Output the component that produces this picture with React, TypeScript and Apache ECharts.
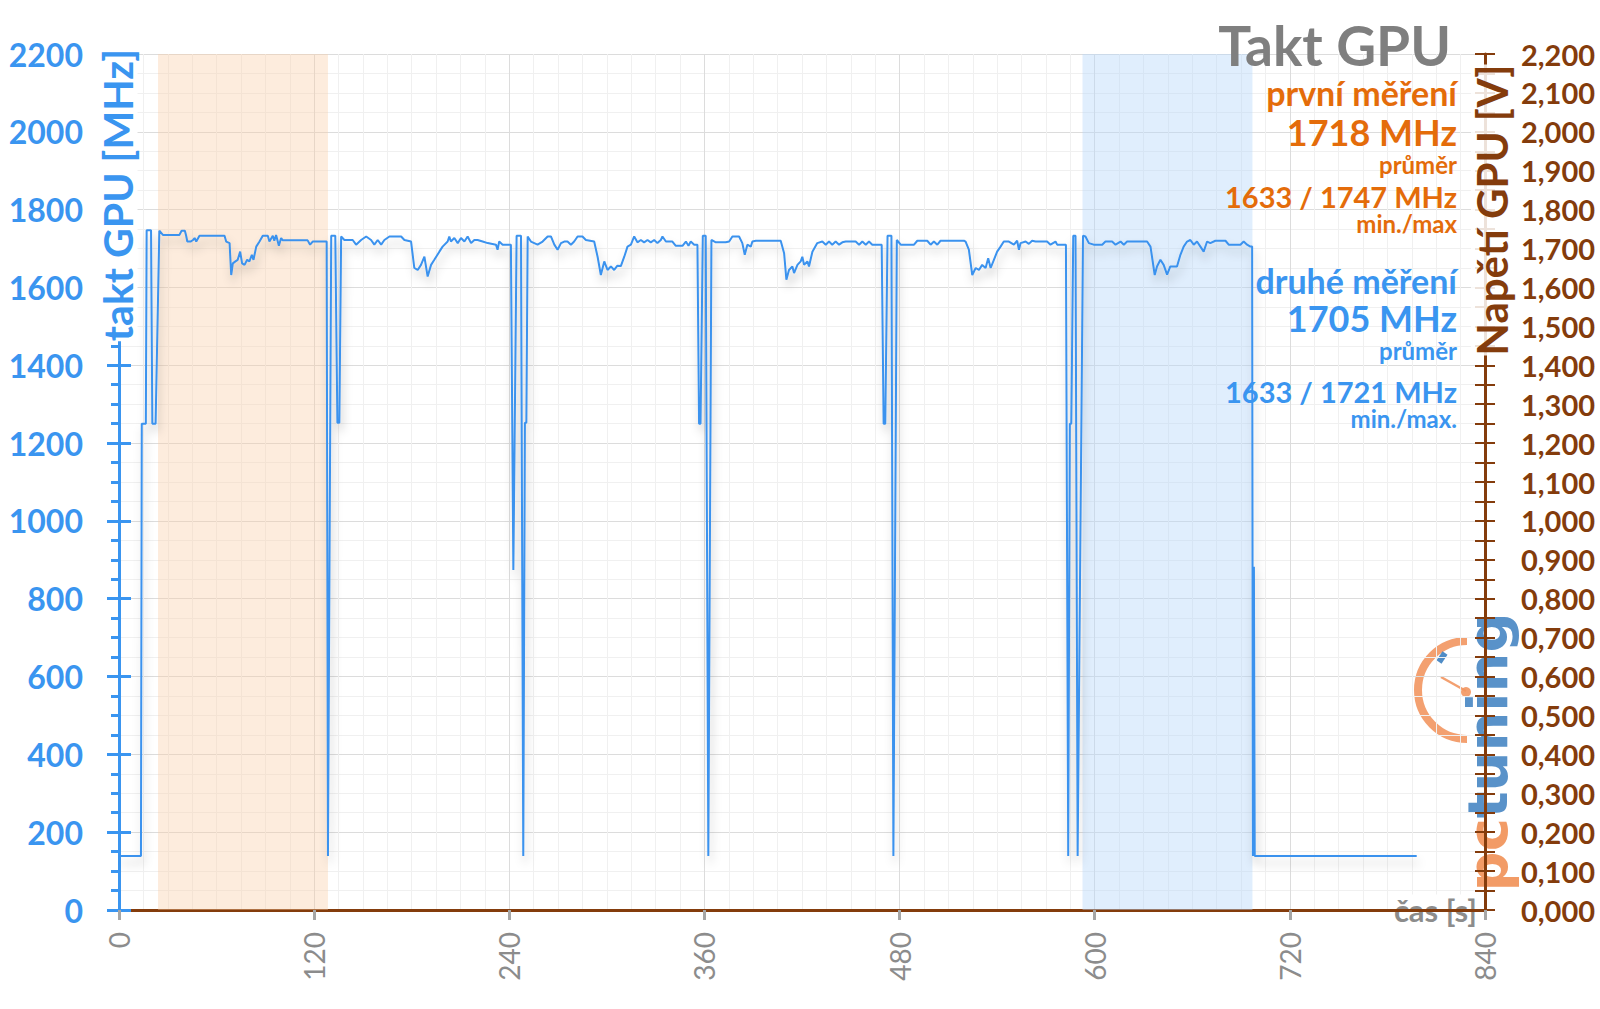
import React, { useEffect, useRef } from "react";
import * as echarts from "echarts";

// ---- data ----
const timeS: number[] = [
  0, 13.5, 14, 16.5, 17, 19.7, 20.5, 22.5, 24.8,
  27, 37.2, 38.5, 40.5, 41.3, 42, 44, 45.5, 46.5, 47.5, 49.5, 64.9, 65.9, 68, 69, 70, 71.6, 73, 74.5, 75.7, 77.2, 78.8, 80.2, 81.7, 82.7, 84.4, 86.4, 88.4, 91.5, 92.5, 94.6, 95.5, 96.6, 98.3, 99.7, 100.7, 116, 117.5, 119.1, 127.7,
  128.5, 130.5, 133, 134.3, 135.5, 136.6,
  138.6, 143.7, 145.8, 148.9, 152, 155, 157, 159.1, 161.2, 163.2, 166.3, 173.5, 175.5, 179.6, 181.6, 183.7, 185.7, 187.8, 189.8, 191.9, 193.9, 197, 199, 202.1, 203.1, 204.1, 206.2, 208.3, 210.3, 212.4, 214.4, 216.5, 218.5, 220.5, 223.6, 226.7, 231.8, 232.8, 233.8, 235.9, 241,
  242.5, 244.5, 247.2, 248.6, 249.6, 250.5, 251.3,
  253.3, 257.4, 260.5, 263.6, 265.6, 267.7, 269.7, 271.8, 273.8, 275.8, 277.9, 279.9, 282, 285, 287.1, 292.2, 294.3, 296.3, 298.4, 300.4, 302.5, 304.5, 306.5, 308.6, 310.7, 312.7, 314.8, 316.8, 318.8, 320.9, 322.9, 325, 327, 329.1, 331.1, 333.2, 334.2, 336.3, 340.3, 342.4, 346.5, 348.6, 350.2, 351.6, 353.7, 355.7,
  356.7, 357.6, 359, 360.8, 362.4, 364.3,
  367, 373.1, 375.2, 377.2, 381.3, 383.3, 384.8, 386.4, 388.5, 389.5, 391.6, 406.9, 409, 410.4, 412, 414.1, 415.1, 417.2, 419.2, 420.2, 421.3, 423.3, 424.3, 426.4, 429.4, 432.5, 434.6, 436.6, 438.6, 440.7, 442.8, 444.8, 446.9, 453, 455.1, 457.1, 459.2, 461.2, 463.2, 467.3, 469,
  470.2, 471.2, 472.6, 475, 476.2, 478.3,
  480.7, 488.9, 490.9, 497, 499.1, 501.1, 503.2, 505.2, 519.6, 520.6, 522.6, 524.7, 526.8, 528.8, 530.8, 532.9, 534.5, 536, 538, 540, 542.1, 544.1, 547.2, 550.3, 552.3, 553.4, 554.4, 557.5, 559.5, 561.5, 563.6, 570.7, 572.8, 575.9, 576.9, 581, 582.3,
  583.7, 584.7, 585.6, 586.8, 588.2, 589.5, 592.8,
  594.3, 596.4, 599.4, 604.6, 606.6, 610.7, 612.8, 615.9, 617.9, 619.9, 632.2, 634.3, 636.9, 638.3, 640.4, 642.4, 644.5, 646.5, 650.6, 652.7, 654.7, 656.8, 658.8, 660.9, 662.9, 665, 667, 669.1, 671.1, 674.2, 680.4, 682.4, 689.6, 691.6, 693.7, 695.7, 696.8,
  697.3, 697.9, 698.4, 798,
];

const clockMHz: number[] = [
  139, 139, 1250, 1250, 1747, 1747, 1250, 1250, 1746,
  1735, 1735, 1746, 1746, 1733, 1718, 1718, 1722, 1727, 1718, 1733, 1733, 1718, 1714, 1632, 1662, 1667, 1671, 1692, 1662, 1658, 1671, 1667, 1684, 1671, 1705, 1718, 1733, 1733, 1718, 1733, 1720, 1735, 1707, 1727, 1721, 1721, 1710, 1718, 1718,
  139, 1733, 1733, 1252, 1252, 1731,
  1722, 1722, 1710, 1722, 1731, 1722, 1710, 1722, 1710, 1722, 1731, 1731, 1722, 1718, 1650, 1645, 1658, 1679, 1628, 1658, 1671, 1692, 1705, 1718, 1731, 1718, 1727, 1714, 1727, 1718, 1731, 1714, 1722, 1722, 1718, 1714, 1710, 1697, 1718, 1710, 1710,
  874, 1733, 1733, 139, 1252, 1252, 1731,
  1718, 1710, 1718, 1731, 1731, 1710, 1697, 1714, 1718, 1718, 1710, 1718, 1731, 1731, 1722, 1718, 1679, 1632, 1667, 1645, 1654, 1645, 1656, 1655, 1679, 1705, 1710, 1731, 1716, 1722, 1716, 1722, 1716, 1722, 1714, 1722, 1731, 1718, 1718, 1707, 1707, 1718, 1707, 1718, 1710, 1710,
  1250, 1250, 1733, 1733, 139, 1722,
  1716, 1716, 1718, 1731, 1731, 1714, 1684, 1710, 1705, 1718, 1720, 1720, 1688, 1620, 1645, 1654, 1637, 1658, 1667, 1679, 1658, 1667, 1654, 1692, 1714, 1718, 1710, 1718, 1710, 1718, 1710, 1716, 1718, 1718, 1710, 1718, 1710, 1718, 1710, 1710, 1710,
  1250, 1250, 1733, 1733, 139, 1722,
  1710, 1710, 1720, 1720, 1710, 1718, 1710, 1720, 1720, 1718, 1697, 1632, 1650, 1645, 1658, 1650, 1675, 1650, 1671, 1692, 1705, 1718, 1718, 1710, 1720, 1697, 1714, 1718, 1712, 1720, 1718, 1718, 1710, 1718, 1710, 1710, 1710,
  139, 1250, 1250, 1733, 1733, 139, 1733,
  1731, 1714, 1710, 1710, 1718, 1718, 1710, 1718, 1710, 1718, 1718, 1705, 1632, 1654, 1671, 1658, 1633, 1654, 1654, 1684, 1705, 1718, 1722, 1710, 1718, 1705, 1692, 1718, 1714, 1720, 1720, 1710, 1710, 1718, 1710, 1705, 1705,
  139, 882, 139, 139,
];

const bandFirst: number[] = [24, 128.5];
const bandSecond: number[] = [592.5, 697];

const xTicks = { min: 0, max: 840, step: 120 };
const leftTicks = { min: 0, max: 2200, step: 200 };
const rightTicks = { min: 0, max: 2.2, step: 0.1 };

const titleText = "Takt GPU";
const firstLabel = ["první měření", "1718 MHz", "průměr", "1633 / 1747 MHz", "min./max"];
const secondLabel = ["druhé měření", "1705 MHz", "průměr", "1633 / 1721 MHz", "min./max."];

// ---- styles ----
const BLUE = "#3A95F0";
const LINE = "#3A92EE";
const ORANGE = "#E46C0A";
const BROWN = "#843C0C";
const GRAY = "#7F7F7F";
const FONT = "Lato, 'Open Sans', sans-serif";

export default function App() {
  const ref = useRef<HTMLDivElement>(null);

  useEffect(() => {
    if (!ref.current) return;
    const chart = echarts.init(ref.current, undefined, { renderer: "svg" });

    const data = timeS.map((t, i) => [t, clockMHz[i]]);

    const annSize = [34, 36, 24, 29, 24];
    const annX = 1457;
    const textEl = (text: string, y: number, size: number, color: string) => ({
      type: "text",
      x: annX,
      y,
      z: 50,
      style: {
        text,
        fill: color,
        font: `bold ${size}px ${FONT}`,
        textAlign: "right",
        textVerticalAlign: "middle",
      },
    });

    const graphics: any[] = [];
    const annY1 = [92, 132, 164, 196, 223];
    firstLabel.forEach((t, i) => graphics.push(textEl(t, annY1[i], annSize[i], ORANGE)));
    const annY2 = [280, 318, 350, 391, 418];
    secondLabel.forEach((t, i) => graphics.push(textEl(t, annY2[i], annSize[i], BLUE)));

    // axis names
    graphics.push({
      type: "text",
      x: 117,
      y: 195,
      rotation: Math.PI / 2,
      z: 50,
      style: {
        text: "takt GPU [MHz]",
        fill: BLUE,
        font: `bold 41px ${FONT}`,
        textAlign: "center",
        textVerticalAlign: "middle",
        backgroundColor: "#fff",
      },
    });
    graphics.push({
      type: "text",
      x: 1492,
      y: 210,
      rotation: Math.PI / 2,
      z: 50,
      style: {
        text: "Napětí GPU [V]",
        fill: BROWN,
        font: `bold 42px ${FONT}`,
        textAlign: "center",
        textVerticalAlign: "middle",
        backgroundColor: "rgba(255,255,255,0.85)",
      },
    });

    // logo
    graphics.push({
      type: "group",
      z: 40,
      children: [
        {
          type: "arc",
          shape: { cx: 1467, cy: 690, r: 49, startAngle: Math.PI / 2, endAngle: Math.PI * 1.5, clockwise: true },
          style: { stroke: "#F29660", lineWidth: 8, fill: null, opacity: 0.9 },
        },
        {
          type: "line",
          shape: { x1: 1439, y1: 662, x2: 1445, y2: 653 },
          style: { stroke: "#3C7FC0", lineWidth: 6, opacity: 0.9 },
        },
        {
          type: "line",
          shape: { x1: 1441, y1: 677, x2: 1466, y2: 691 },
          style: { stroke: "#F29660", lineWidth: 2.5, opacity: 0.9 },
        },
        {
          type: "circle",
          shape: { cx: 1466, cy: 692, r: 5 },
          style: { fill: "#F29660", opacity: 0.9 },
        },
        {
          type: "text",
          x: 1487,
          y: 752,
          rotation: Math.PI / 2,
          style: {
            text: "{a|pc}{b|tuning}",
            textAlign: "center",
            textVerticalAlign: "middle",
            opacity: 0.85,
            rich: {
              a: { fill: "#F08A4B", font: "bold 56px 'DejaVu Sans'" },
              b: { fill: "#3C7FC0", font: "bold 56px 'DejaVu Sans'" },
            },
          },
        },
      ],
    });

    const option: any = {
      animation: false,
      backgroundColor: "#ffffff",
      title: {
        text: titleText,
        right: 144,
        top: 12,
        textStyle: { fontSize: 55, fontWeight: "bold", color: GRAY, fontFamily: FONT },
      },
      grid: { left: 119, right: 115, top: 54, bottom: 99, containLabel: false },
      xAxis: {
        type: "value",
        min: xTicks.min,
        max: xTicks.max,
        interval: xTicks.step,
        name: "čas [s]",
        nameLocation: "end",
        nameGap: -4,
        nameTextStyle: {
          align: "right",
          verticalAlign: "middle",
          color: "#8C8C8C",
          fontSize: 31,
          fontWeight: "bold",
          fontFamily: FONT,
          backgroundColor: "#fff",
          padding: [0, 4, 0, 6],
        },
        axisLine: { show: true, onZero: false, lineStyle: { color: BROWN, width: 3 } },
        axisTick: { show: true, length: 10, lineStyle: { color: "#A6A6A6", width: 3 } },
        axisLabel: { rotate: 90, margin: 22, color: "#8C8C8C", fontSize: 28, fontFamily: FONT },
        splitLine: { show: true, lineStyle: { color: "#DCDCDC", width: 1 } },
        minorTick: { show: false, splitNumber: 8 },
        minorSplitLine: { show: true, lineStyle: { color: "#F0F0F0", width: 1 } },
      },
      yAxis: [
        {
          type: "value",
          position: "left",
          min: leftTicks.min,
          max: leftTicks.max,
          interval: leftTicks.step,
          axisLine: { show: true, onZero: false, lineStyle: { color: BLUE, width: 3 } },
          axisTick: { show: true, length: 12, lineStyle: { color: BLUE, width: 3 } },
          minorTick: { show: true, splitNumber: 4, length: 8, lineStyle: { color: BLUE, width: 3 } },
          axisLabel: {
            margin: 36,
            color: BLUE,
            fontSize: 32,
            fontWeight: "bold",
            fontFamily: FONT,
            formatter: (v: number) => String(v),
          },
          splitLine: { show: true, lineStyle: { color: "#DCDCDC", width: 1 } },
          minorSplitLine: { show: true, lineStyle: { color: "#F0F0F0", width: 1 } },
        },
        {
          type: "value",
          position: "right",
          min: rightTicks.min,
          max: rightTicks.max,
          interval: rightTicks.step,
          axisLine: { show: true, onZero: false, lineStyle: { color: BROWN, width: 3 } },
          axisTick: { show: true, length: 10, lineStyle: { color: BROWN, width: 2 } },
          minorTick: { show: true, splitNumber: 2, length: 10, lineStyle: { color: BROWN, width: 2 } },
          axisLabel: {
            margin: 36,
            color: BROWN,
            fontSize: 29,
            fontWeight: "bold",
            fontFamily: FONT,
            formatter: (v: number) => v.toFixed(3).replace(".", ","),
          },
          splitLine: { show: false },
        },
        {
          type: "value",
          position: "left",
          min: leftTicks.min,
          max: leftTicks.max,
          interval: leftTicks.step,
          axisLine: { show: false, onZero: false },
          axisTick: { show: true, inside: true, length: 12, lineStyle: { color: BLUE, width: 3 } },
          axisLabel: { show: false },
          splitLine: { show: false },
        },
        {
          type: "value",
          position: "right",
          min: rightTicks.min,
          max: rightTicks.max,
          interval: rightTicks.step / 2,
          axisLine: { show: false, onZero: false },
          axisTick: { show: true, inside: true, length: 10, lineStyle: { color: BROWN, width: 2 } },
          axisLabel: { show: false },
          splitLine: { show: false },
        },
      ],
      series: [
        {
          name: "takt GPU",
          type: "line",
          xAxisIndex: 0,
          yAxisIndex: 0,
          data,
          showSymbol: false,
          symbol: "none",
          lineStyle: {
            color: LINE,
            width: 2,
            shadowColor: "rgba(0,0,0,0.22)",
            shadowBlur: 10,
            shadowOffsetY: 7,
            shadowOffsetX: 2,
          },
          z: 5,
          markArea: {
            silent: true,
            data: [
              [{ xAxis: bandFirst[0], itemStyle: { color: "rgba(251,205,165,0.38)" } }, { xAxis: bandFirst[1] }],
              [{ xAxis: bandSecond[0], itemStyle: { color: "rgba(180,214,250,0.42)" } }, { xAxis: bandSecond[1] }],
            ],
          },
        },
      ],
      graphic: graphics,
    };

    chart.setOption(option);
    return () => chart.dispose();
  }, []);

  return (
    <div
      ref={ref}
      style={{ position: "fixed", left: 0, top: 0, width: 1600, height: 1009, background: "#fff" }}
    />
  );
}
